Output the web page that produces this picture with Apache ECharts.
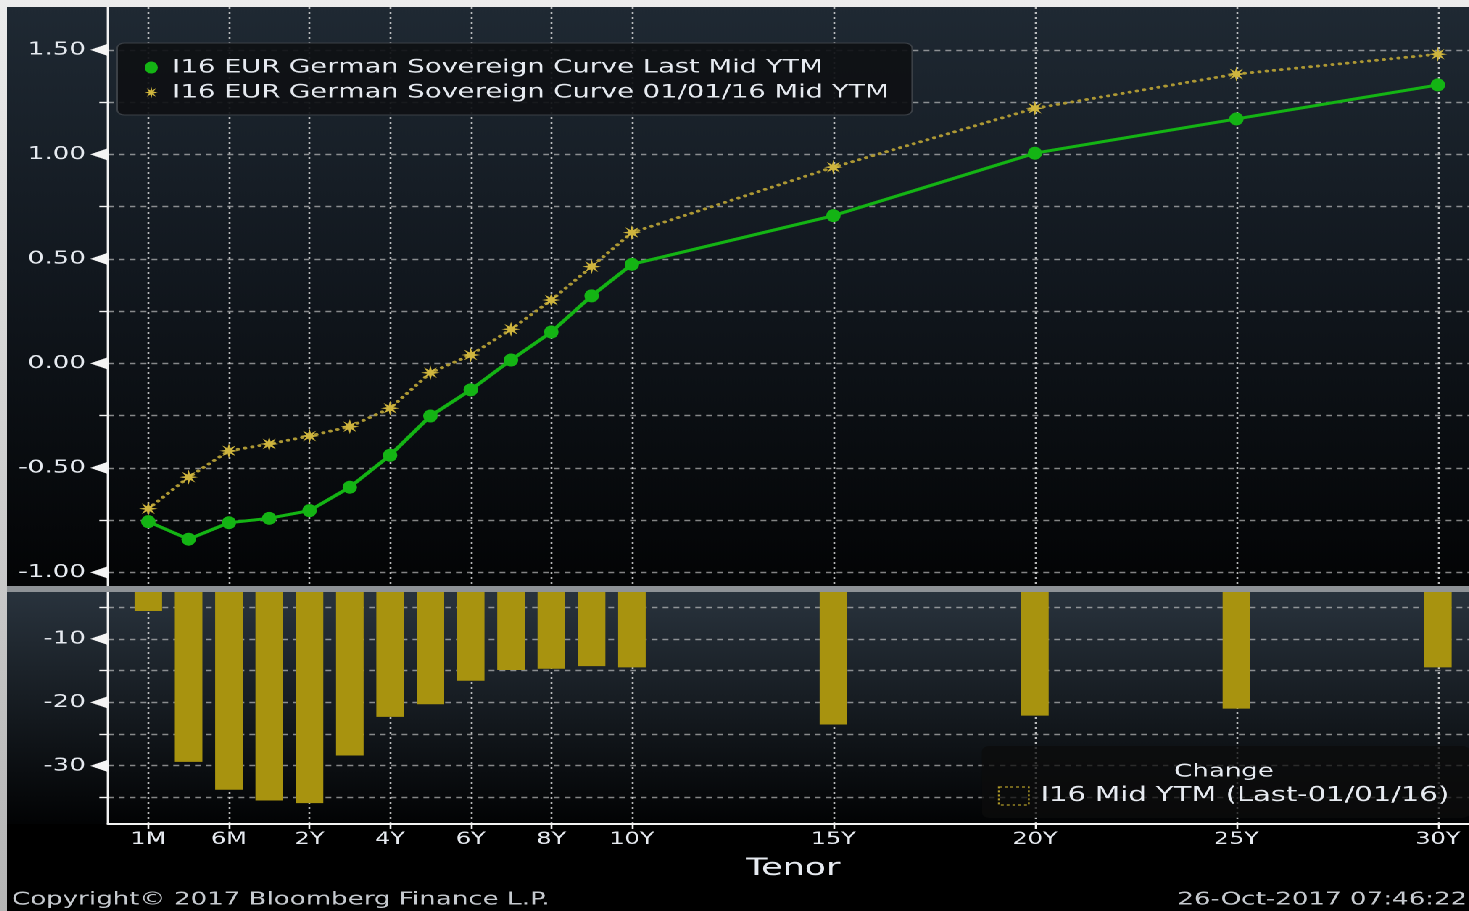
<!DOCTYPE html>
<html>
<head>
<meta charset="utf-8">
<title>I16 EUR German Sovereign Curve</title>
<script src="https://cdn.jsdelivr.net/npm/echarts@6/dist/echarts.min.js"></script>
<style>
  html, body { margin: 0; padding: 0; }
  body { width: 1469px; height: 911px; overflow: hidden; position: relative;
         background: linear-gradient(#ececec, #b4b4b4); }
  /* the Bloomberg screenshot is stretched sideways, so is the chart */
  #chart { position: absolute; left: 7px; top: 7px; width: 1008px; height: 904px;
           transform-origin: 0 0; transform: scaleX(1.45); background: #000; }
</style>
</head>
<body>
<div id="chart"></div>
<script>
var tenors   = ['1M','3M','6M','1Y','2Y','3Y','4Y','5Y','6Y','7Y','8Y','9Y','10Y','15Y','20Y','25Y','30Y'];
var lastYtm  = [-0.758,-0.842,-0.763,-0.742,-0.705,-0.593,-0.440,-0.252,-0.127,0.016,0.150,0.323,0.474,0.707,1.006,1.170,1.333];
var jan16Ytm = [-0.696,-0.545,-0.419,-0.386,-0.348,-0.303,-0.215,-0.045,0.040,0.163,0.303,0.463,0.626,0.939,1.221,1.385,1.480];
var changeBp = [-5.6,-29.4,-33.8,-35.5,-35.9,-28.4,-22.3,-20.3,-16.6,-14.9,-14.7,-14.3,-14.5,-23.5,-22.1,-21.0,-14.5];

// tenor axis: one slot per year past 10Y, plus a blank slot on each side
var axisSlots = ['', '1M','3M','6M','1Y','2Y','3Y','4Y','5Y','6Y','7Y','8Y','9Y','10Y',
  '11Y','12Y','13Y','14Y','15Y','16Y','17Y','18Y','19Y','20Y','21Y','22Y','23Y','24Y','25Y',
  '26Y','27Y','28Y','29Y','30Y','31Y'];
var shownTenors = ['1M','6M','2Y','4Y','6Y','8Y','10Y','15Y','20Y','25Y','30Y'];

var ytmTicks  = [-1,-0.75,-0.5,-0.25,0,0.25,0.5,0.75,1,1.25,1.5];
var ytmLabels = [-1,-0.5,0,0.5,1,1.5];
var bpTicks   = [-35,-30,-25,-20,-15,-10,-5];
var bpLabels  = [-30,-20,-10];

var NAME_LAST = 'I16 EUR German Sovereign Curve Last Mid YTM';
var NAME_JAN  = 'I16 EUR German Sovereign Curve 01/01/16 Mid YTM';
var NAME_CHG  = 'I16 Mid YTM (Last-01/01/16)';

var W = 1008;
var TXT = '#e6eaf0';

function showSlot(idx, val) { return shownTenors.indexOf(val) >= 0; }

var circlePath = 'path://M0,50 A50,50 0 1 1 100,50 A50,50 0 1 1 0,50 Z';
function makeStar() {
  var pts = [];
  for (var k = 0; k < 16; k++) {
    var a = k * Math.PI / 8, r = k % 2 ? 19 : 50;
    pts.push((50 + r * Math.sin(a)).toFixed(1) + ',' + (50 - r * Math.cos(a)).toFixed(1));
  }
  return 'path://M' + pts.join(' L') + ' Z';
}
var starPath = makeStar();

var gridV = { show: true, interval: showSlot, lineStyle: { color: 'rgba(228,228,228,0.8)', width: 1.3, type: [2, 3] } };
var gridH = { show: true, lineStyle: { color: 'rgba(210,210,210,0.62)', width: 1.4, type: [4, 3.5] } };
var yRich = {
  v: { fontSize: 18, color: TXT },
  a: { fontSize: 16, color: '#f4f4f4', padding: [0, 0, 0, 3] }
};

var chart = echarts.init(document.getElementById('chart'), null, { devicePixelRatio: 2 });
var option = {
  animation: false,
  textStyle: { fontFamily: 'DejaVu Sans' },
  graphic: [
    { type: 'rect', z: -1, shape: { x: 0, y: 0, width: W, height: 579 },
      style: { fill: new echarts.graphic.LinearGradient(0, 0, 0, 1, [
        { offset: 0, color: '#1f2933' }, { offset: 0.45, color: '#12181f' }, { offset: 1, color: '#030405' }]) } },
    { type: 'rect', z: 50, shape: { x: 0, y: 579, width: W, height: 6 }, style: { fill: '#8e9296' } },
    { type: 'rect', z: -1, shape: { x: 0, y: 585, width: W, height: 232 },
      style: { fill: new echarts.graphic.LinearGradient(0, 0, 0, 1, [
        { offset: 0, color: '#29333d' }, { offset: 1, color: '#020304' }]) } },
    { type: 'text', z: 50, x: 839.3, y: 765,
      style: { text: 'Change', fill: TXT, fontSize: 18, fontFamily: 'DejaVu Sans', align: 'center', verticalAlign: 'middle' } },
    { type: 'text', z: 50, x: 3.4, y: 893,
      style: { text: 'Copyright\u00a9 2017 Bloomberg Finance L.P.', fill: '#c6cacf', fontSize: 18, fontFamily: 'DejaVu Sans', verticalAlign: 'middle' } },
    { type: 'text', z: 50, x: 1007, y: 893,
      style: { text: '26-Oct-2017 07:46:22', fill: '#c6cacf', fontSize: 18, fontFamily: 'DejaVu Sans', align: 'right', verticalAlign: 'middle' } }
  ],
  legend: [{
    orient: 'vertical', left: 76, top: 36, padding: [15, 16, 13, 19],
    itemGap: 6, itemWidth: 9, itemHeight: 12, symbolKeepAspect: false, selectedMode: false,
    backgroundColor: 'rgba(14,16,19,0.92)', borderColor: '#3b4046', borderWidth: 1, borderRadius: 5,
    textStyle: { color: TXT, fontSize: 18.9, padding: [0, 0, 0, 5] },
    data: [{ name: NAME_LAST, icon: circlePath }, { name: NAME_JAN, icon: starPath }]
  }, {
    orient: 'vertical', left: 672.4, top: 739, padding: [40, 14, 12, 11],
    itemWidth: 20.7, itemHeight: 18, symbolKeepAspect: false, selectedMode: false,
    backgroundColor: 'rgba(12,12,12,0.75)', borderRadius: 5,
    textStyle: { color: TXT, fontSize: 20, padding: [0, 0, 0, 3] },
    data: [{ name: NAME_CHG, icon: 'rect',
      itemStyle: { color: 'rgba(0,0,0,0)', borderColor: '#b09a28', borderWidth: 1.2, borderType: [2, 2] } }]
  }],
  grid: [
    { left: 69.66, right: -6.6, top: 0, height: 579, outerBoundsMode: 'none' },
    { left: 69.66, right: -6.6, top: 585, height: 232, outerBoundsMode: 'none' }
  ],
  xAxis: [{
    gridIndex: 0, type: 'category', data: axisSlots, boundaryGap: false,
    axisLine: { show: false }, axisTick: { show: false }, axisLabel: { show: false },
    splitLine: gridV
  }, {
    gridIndex: 1, type: 'category', data: axisSlots, boundaryGap: false,
    axisLine: { lineStyle: { color: '#f2f2f2', width: 2 } },
    axisTick: { interval: showSlot, length: 5, lineStyle: { color: '#f2f2f2', width: 1.3 } },
    axisLabel: { interval: showSlot, color: TXT, fontSize: 16.5, margin: 7 },
    splitLine: gridV,
    name: 'Tenor', nameLocation: 'middle', nameGap: 33,
    nameTextStyle: { color: TXT, fontSize: 24 }
  }],
  yAxis: [{
    gridIndex: 0, type: 'value', min: -1.066, max: 1.706,
    axisLine: { show: true, onZero: false, lineStyle: { color: '#f2f2f2', width: 1.4 } },
    axisTick: { show: true, customValues: ytmTicks, length: 6, lineStyle: { color: '#f2f2f2', width: 1.4 } },
    axisLabel: { customValues: ytmLabels, margin: 0, rich: yRich,
      formatter: function (v) { return '{v|' + v.toFixed(2) + '}{a|\u25C0}'; } },
    splitLine: gridH
  }, {
    gridIndex: 1, type: 'value', min: -39.2, max: -2.6,
    axisLine: { show: true, onZero: false, lineStyle: { color: '#f2f2f2', width: 1.4 } },
    axisTick: { show: true, customValues: bpTicks, length: 6, lineStyle: { color: '#f2f2f2', width: 1.4 } },
    axisLabel: { customValues: bpLabels, margin: 0, rich: yRich,
      formatter: function (v) { return '{v|' + v + '}{a|\u25C0}'; } },
    splitLine: gridH
  }],
  series: [{
    name: NAME_LAST, type: 'line', xAxisIndex: 0, yAxisIndex: 0, z: 4,
    data: tenors.map(function (t, i) { return [t, lastYtm[i]]; }),
    symbol: circlePath, symbolSize: [10, 13],
    itemStyle: { color: '#14b414' },
    lineStyle: { color: '#14b414', width: 3 }
  }, {
    name: NAME_JAN, type: 'line', xAxisIndex: 0, yAxisIndex: 0, z: 3,
    data: tenors.map(function (t, i) { return [t, jan16Ytm[i]]; }),
    symbol: starPath, symbolSize: [13, 15],
    itemStyle: { color: '#cfb53e' },
    lineStyle: { color: '#ad9834', width: 2.9, type: [0.1, 5], cap: 'round' }
  }, {
    name: NAME_CHG, type: 'bar', xAxisIndex: 1, yAxisIndex: 1, barWidth: 19, clip: true,
    data: tenors.map(function (t, i) { return [t, changeBp[i]]; }),
    itemStyle: { color: '#a8930f' }
  }]
};
chart.setOption(option);
</script>
</body>
</html>
